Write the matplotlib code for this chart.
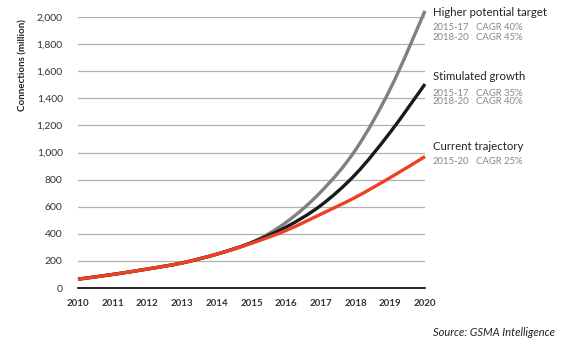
import matplotlib.pyplot as plt
from matplotlib.path import Path
from matplotlib.patches import PathPatch

# Daten
jahre = [2010, 2011, 2012, 2013, 2014, 2015, 2016, 2017, 2018, 2019, 2020]
aktuell = [65, 100, 140, 185, 250, 330, 425, 545, 670, 815, 970]
stimuliert = [65, 100, 140, 185, 250, 335, 450, 610, 840, 1150, 1505]
hoeher = [65, 100, 140, 185, 250, 335, 485, 710, 1020, 1470, 2045]
y_ticks = [0, 200, 400, 600, 800, 1000, 1200, 1400, 1600, 1800, 2000]

plt.rcParams['font.family'] = ['Lato', 'DejaVu Sans']


# glatte Linie durch die Punkte (Catmull-Rom als Bezier)
def glatte_linie(ax, xs, ys, **kw):
    pts = list(zip(xs, ys))
    verts = [pts[0]]
    codes = [Path.MOVETO]
    for i in range(len(pts) - 1):
        p0 = pts[i - 1] if i > 0 else pts[i]
        p1 = pts[i]
        p2 = pts[i + 1]
        p3 = pts[i + 2] if i + 2 < len(pts) else pts[i + 1]
        c1 = (p1[0] + (p2[0] - p0[0]) / 6, p1[1] + (p2[1] - p0[1]) / 6)
        c2 = (p2[0] - (p3[0] - p1[0]) / 6, p2[1] - (p3[1] - p1[1]) / 6)
        verts += [c1, c2, p2]
        codes += [Path.CURVE4] * 3
    ax.add_patch(PathPatch(Path(verts, codes), fill=False, capstyle='butt', **kw))


fig = plt.figure(figsize=(5.64, 3.52), dpi=100)
ax = fig.add_axes([78 / 564, 1 - 288 / 352, (425 - 78) / 564, (288 - 17) / 352])

# Gitterlinien
for v in y_ticks[1:]:
    ax.axhline(v, color='#b0b0b0', lw=0.9, zorder=1)

glatte_linie(ax, jahre, hoeher, edgecolor='#808080', lw=2.4, zorder=3, clip_on=False)
glatte_linie(ax, jahre, stimuliert, edgecolor='#1a1a1a', lw=2.4, zorder=4, clip_on=False)
glatte_linie(ax, jahre, aktuell, edgecolor='#ee4023', lw=2.4, zorder=5, clip_on=False)

ax.set_xlim(2010, 2020)
ax.set_ylim(0, 2000)
ax.set_xticks(jahre)
ax.set_yticks(y_ticks)
ax.set_yticklabels([f'{v:,}' for v in y_ticks])
ax.tick_params(length=0, labelsize=7.5, colors='#333333')
ax.tick_params(axis='y', pad=11)
ax.tick_params(axis='x', pad=8, labelsize=7)
for lab in ax.get_xticklabels():
    lab.set_fontweight('bold')

for s in ['top', 'right', 'left']:
    ax.spines[s].set_visible(False)
ax.spines['bottom'].set_color('black')
ax.spines['bottom'].set_linewidth(1.2)

fig.text(23 / 564, 1 - 65 / 352, 'Connections (million)', rotation=90,
         ha='center', va='center', fontsize=7, fontweight='bold', color='#222222')

# Beschriftungen rechts
x1 = 433 / 564
x2 = 476 / 564


def t(y, s, x=x1, size=6.8, color='#888888'):
    fig.text(x, 1 - y / 352, s, fontsize=size, color=color, va='center', ha='left')


t(12, 'Higher potential target', size=8.2, color='#222222')
t(28, '2015-17'); t(28, 'CAGR 40%', x=x2)
t(37, '2018-20'); t(37, 'CAGR 45%', x=x2)
t(77, 'Stimulated growth', size=8.2, color='#222222')
t(93, '2015-17'); t(93, 'CAGR 35%', x=x2)
t(102, '2018-20'); t(102, 'CAGR 40%', x=x2)
t(147, 'Current trajectory', size=8.2, color='#222222')
t(161, '2015-20'); t(161, 'CAGR 25%', x=x2)

fig.text(555 / 564, 1 - 333 / 352, 'Source: GSMA Intelligence', fontsize=8,
         style='italic', color='#222222', ha='right', va='center')

fig.savefig('out.png', dpi=100)
